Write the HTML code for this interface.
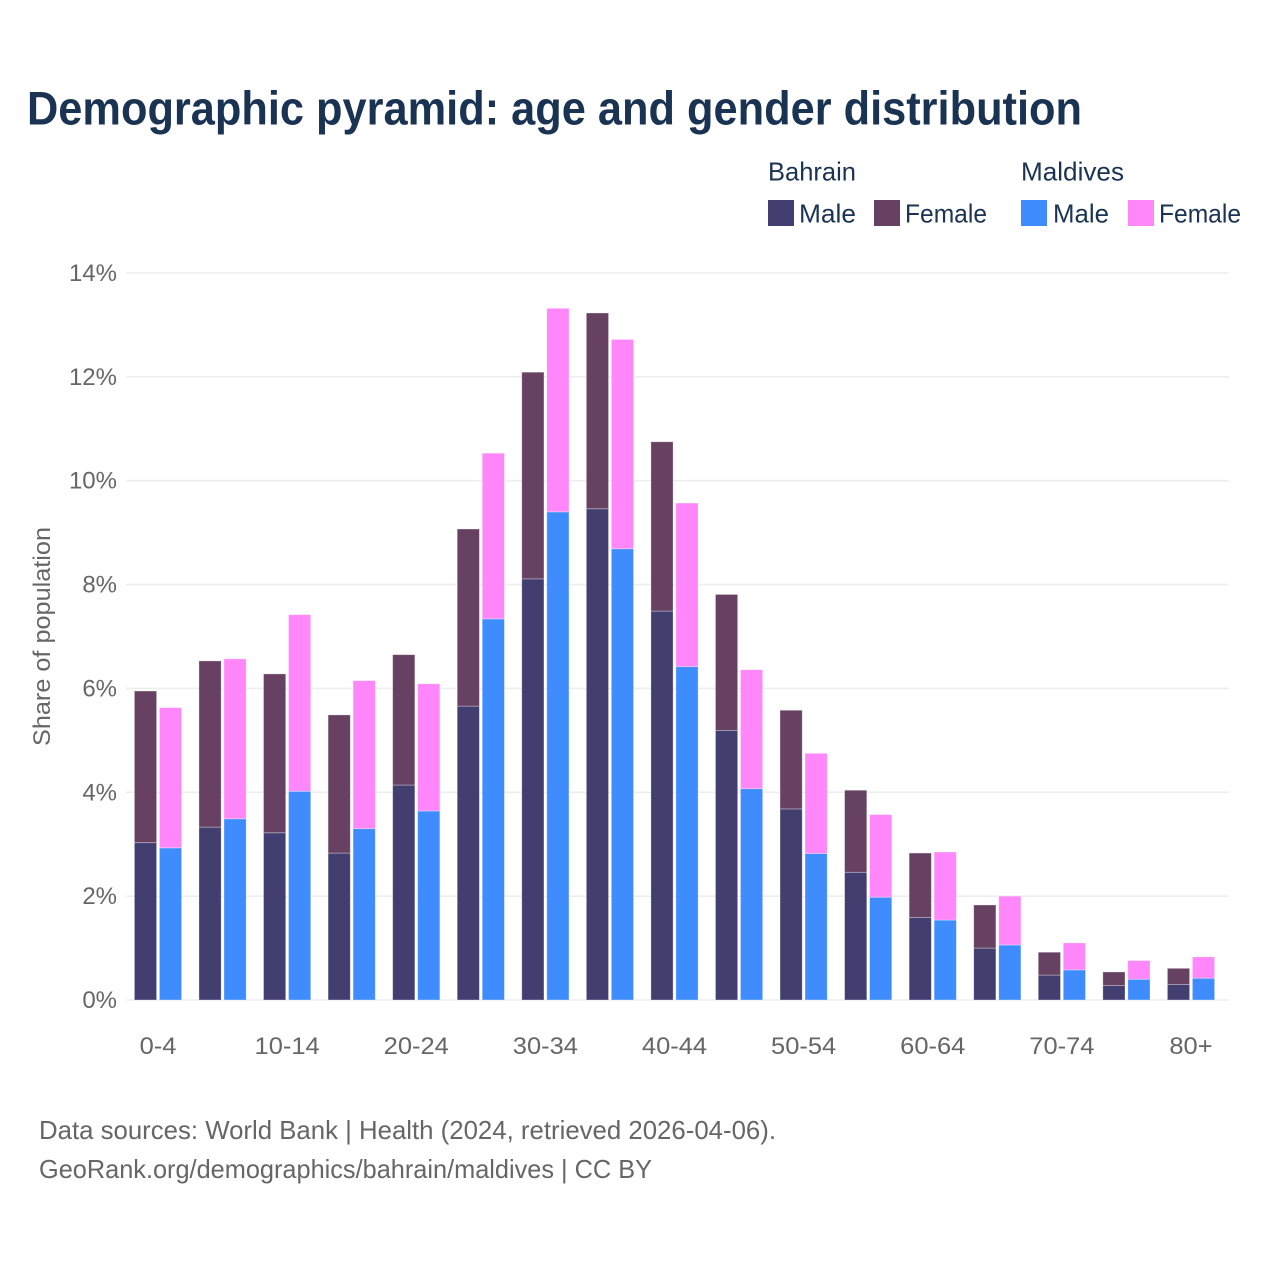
<!DOCTYPE html>
<html lang="en">
<head>
<meta charset="utf-8">
<title>Demographic pyramid: age and gender distribution</title>
<style>
html,body{margin:0;padding:0;background:#fff;}
svg{display:block;}
text{font-family:"Liberation Sans",sans-serif;}
.title{font-size:47px;font-weight:700;fill:#1a3353;}
.legend{font-size:26px;fill:#1a3353;}
.tick{font-size:24px;fill:#666;}
.foot{font-size:26px;fill:#666;}
</style>
</head>
<body>
<svg id="chart" width="1280" height="1280" viewBox="0 0 1280 1280" xmlns="http://www.w3.org/2000/svg">
  <rect width="1280" height="1280" fill="#fff"/>
  <text class="title" x="27" y="124.5" textLength="1055" lengthAdjust="spacingAndGlyphs">Demographic pyramid: age and gender distribution</text>

  <g>
    <text class="legend" x="768" y="180.5" textLength="88" lengthAdjust="spacingAndGlyphs">Bahrain</text>
    <text class="legend" x="1021" y="180.5" textLength="103" lengthAdjust="spacingAndGlyphs">Maldives</text>
    <rect x="768" y="200" width="26" height="26" fill="#433e70"/>
    <text class="legend" x="799" y="222.5" textLength="57" lengthAdjust="spacingAndGlyphs">Male</text>
    <rect x="874" y="200" width="26" height="26" fill="#674162"/>
    <text class="legend" x="905" y="222.5" textLength="82" lengthAdjust="spacingAndGlyphs">Female</text>
    <rect x="1021" y="200" width="26" height="26" fill="#3f8cff"/>
    <text class="legend" x="1053" y="222.5" textLength="56" lengthAdjust="spacingAndGlyphs">Male</text>
    <rect x="1128" y="200" width="26" height="26" fill="#ff87f9"/>
    <text class="legend" x="1159" y="222.5" textLength="82" lengthAdjust="spacingAndGlyphs">Female</text>
  </g>

  <g id="grid"></g>
  <g id="y-ticks"></g>
  <g id="bars"></g>
  <g id="x-ticks"></g>

  <text class="tick" transform="translate(50,636.5) rotate(-90)" text-anchor="middle" textLength="219" lengthAdjust="spacingAndGlyphs">Share of population</text>

  <text class="foot" x="39" y="1139" textLength="737" lengthAdjust="spacingAndGlyphs">Data sources: World Bank | Health (2024, retrieved 2026-04-06).</text>
  <text class="foot" x="39" y="1178" textLength="613" lengthAdjust="spacingAndGlyphs">GeoRank.org/demographics/bahrain/maldives | CC BY</text>
</svg>
<script>
const categories = ["0-4","5-9","10-14","15-19","20-24","25-29","30-34","35-39","40-44","45-49","50-54","55-59","60-64","65-69","70-74","75-79","80+"];
const bahrainMale = [3.03,3.33,3.22,2.83,4.14,5.66,8.11,9.46,7.49,5.19,3.68,2.46,1.59,1.00,0.48,0.28,0.30];
const bahrainFemale = [2.92,3.20,3.06,2.66,2.51,3.41,3.98,3.77,3.26,2.62,1.90,1.58,1.24,0.83,0.44,0.26,0.31];
const maldivesMale = [2.93,3.49,4.02,3.30,3.64,7.34,9.40,8.69,6.42,4.07,2.82,1.98,1.54,1.06,0.58,0.40,0.42];
const maldivesFemale = [2.70,3.08,3.40,2.85,2.45,3.19,3.92,4.03,3.15,2.29,1.93,1.59,1.31,0.94,0.52,0.36,0.41];
const yTicks = [0,2,4,6,8,10,12,14];
const xTickLabels = ["0-4","10-14","20-24","30-34","40-44","50-54","60-64","70-74","80+"];

const NS = "http://www.w3.org/2000/svg";
const plotLeft = 126, plotRight = 1229, yZero = 1000, yTop = 273, yMax = 14;
const firstCenter = 158, lastCenter = 1191, barWidth = 22.2, barGap = 2.8;

function yScale(v){ return yZero - (v / yMax) * (yZero - yTop); }
function xCenter(i){ return firstCenter + i * (lastCenter - firstCenter) / (categories.length - 1); }

function make(tag, attrs, parent){
  const el = document.createElementNS(NS, tag);
  for (const k in attrs) el.setAttribute(k, attrs[k]);
  parent.appendChild(el);
  return el;
}

const gridG = document.getElementById("grid");
const yG = document.getElementById("y-ticks");
const xG = document.getElementById("x-ticks");
const barG = document.getElementById("bars");

yTicks.forEach(function(t){
  const line = make("line", {x1:plotLeft, x2:plotRight, y1:yScale(t), y2:yScale(t), stroke:"#eeeeee", "stroke-width":1.6}, gridG);
  
  
  const label = make("text", {x:117, y:yScale(t)+8, "text-anchor":"end", "class":"tick"}, yG);
  
  
  label.textContent = t + "%";
});

xTickLabels.forEach(function(name){
  const i = categories.indexOf(name);
  const label = make("text", {x:xCenter(i), y:1054, "text-anchor":"middle", "class":"tick"}, xG);
  
  
  label.textContent = name;
  label.setAttribute("textLength", (label.getComputedTextLength() * 1.06).toFixed(1));
  label.setAttribute("lengthAdjust", "spacingAndGlyphs");
});

function drawSegment(x, base, value, fill, name){
  const top = yScale(base + value);
  const bottom = yScale(base);
  const rect = make("rect", {x:x, y:top, width:barWidth, height:bottom - top, fill:fill, stroke:"#ffffff", "stroke-opacity":0.4, "stroke-width":0.8}, barG);
  
  
}

categories.forEach(function(cat, i){
  const c = xCenter(i);
  const leftX = c - barGap / 2 - barWidth;
  const rightX = c + barGap / 2;
  drawSegment(leftX, 0, bahrainMale[i], "#433e70", "bar-bahrain-male");
  drawSegment(leftX, bahrainMale[i], bahrainFemale[i], "#674162", "bar-bahrain-female");
  drawSegment(rightX, 0, maldivesMale[i], "#3f8cff", "bar-maldives-male");
  drawSegment(rightX, maldivesMale[i], maldivesFemale[i], "#ff87f9", "bar-maldives-female");
});
</script>
</body>
</html>
